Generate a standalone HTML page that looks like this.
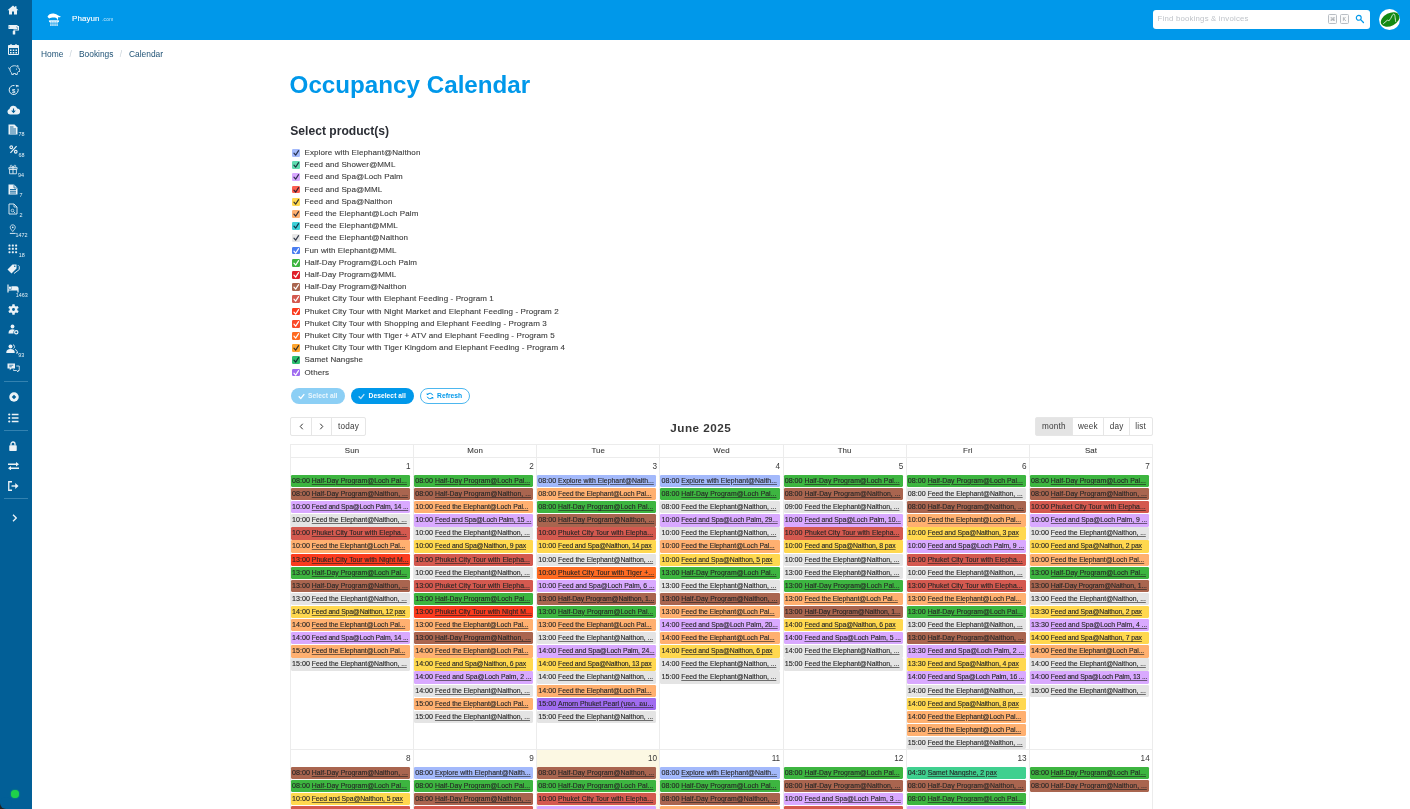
<!DOCTYPE html>
<html lang="en">
<head>
<meta charset="utf-8">
<title>Occupancy Calendar</title>
<style>
*{box-sizing:border-box}
html,body{margin:0;padding:0}
body{width:1410px;height:809px;overflow:hidden;background:#fff;position:relative;
 font-family:"Liberation Sans","Noto Sans CJK SC",sans-serif;color:#363636;}
#side{position:absolute;left:0;top:0;width:32.3px;height:809px;background:#025f97;}
#side svg{position:absolute;display:block;opacity:.92;margin-left:.2px}
#side .n{position:absolute;color:#e6f0f6;font-size:5.4px;line-height:6px;white-space:nowrap}
#side .sep{position:absolute;left:4px;width:24px;height:1px;background:#3482b0}
#corner{position:absolute;left:0;bottom:0;width:6px;height:6px;background:#222}
#corner:after{content:"";position:absolute;left:0;bottom:0;width:12px;height:12px;border-radius:6px;background:#025f97}
#top{position:absolute;left:32px;top:0;width:1378px;height:40px;background:#0098ea;}
#brand{position:absolute;left:40px;top:13.7px;color:#fff;font-size:8px;line-height:10px;white-space:nowrap;letter-spacing:.05px;-webkit-text-stroke:.12px #fff}
#brand small{font-size:4.7px;letter-spacing:.42px;opacity:.8;-webkit-text-stroke:0}
#search{position:absolute;left:1152.6px;top:9.6px;width:217.4px;height:19.5px;border-radius:3px;background:#fff;}
#search .ph{position:absolute;left:5px;top:4px;font-size:7.8px;line-height:10px;color:#bfc3c8;white-space:nowrap;letter-spacing:.2px}
#search kbd{position:absolute;top:4.7px;height:9.6px;width:9.2px;border:0.7px solid #b9bec4;border-radius:1.5px;font-family:"Liberation Sans","DejaVu Sans",sans-serif;font-size:5.4px;line-height:8.2px;text-align:center;color:#8f959b;background:#fbfbfb}
#avatar{position:absolute;left:1378.7px;top:8.7px;width:21px;height:21px;border-radius:10.5px;background:#fff;overflow:hidden}
#crumb{position:absolute;left:41px;top:48px;font-size:8.4px;line-height:12px;color:#1f5275;white-space:nowrap}
#crumb span{position:absolute;top:0}
#crumb i{font-style:normal;color:#c9d3da}
h1{position:absolute;left:289.6px;top:70.3px;margin:0;font-size:24.2px;line-height:30px;font-weight:bold;color:#0098ea;white-space:nowrap;letter-spacing:0}
h2{position:absolute;left:290.3px;top:123.1px;margin:0;font-size:12.1px;line-height:16px;font-weight:bold;color:#2b2e35;white-space:nowrap;letter-spacing:0}
#plist{position:absolute;left:292.2px;top:146.7px;}
.prod{display:block;height:12.2px;position:absolute;left:0;white-space:nowrap}
.cb{position:absolute;left:0;top:2.3px;width:7.8px;height:7.8px;border-radius:1.2px;display:block}
.cb svg{display:block;width:7.8px;height:7.8px}
.pl{position:absolute;left:12.3px;top:.3px;font-size:8px;line-height:12.2px;color:#404040;letter-spacing:.1px;-webkit-text-stroke:.12px #404040}
.btn{position:absolute;top:387.7px;height:16.8px;border-radius:8.4px;font-size:6.7px;line-height:16.8px;font-weight:bold;white-space:nowrap;color:#fff;background:#0098ea;letter-spacing:.05px}
.btn svg{position:absolute;top:5px;width:7px;height:7px}
.btn span{position:absolute;top:0}
.tb{position:absolute;top:416.5px;height:19px;border:1px solid #e6e6e6;background:#fff;border-radius:2px}
.tb div{position:absolute;top:0;height:17px;font-size:8.2px;line-height:18px;text-align:center;color:#3b3b3b;border-left:1px solid #e6e6e6;letter-spacing:.18px}
.tb div:first-child{border-left:0}
.tb svg{display:block;margin:5.4px auto 0}
#ctitle{position:absolute;left:600.8px;width:200px;top:418.6px;text-align:center;font-size:11.7px;line-height:18px;font-weight:bold;color:#383838;letter-spacing:.5px}
#cal{position:absolute;left:0;top:0;width:1410px;height:809px;overflow:hidden;pointer-events:none}
.vl{position:absolute;top:444px;width:1px;height:365px;background:#ececec}
.hl{position:absolute;left:290px;width:863px;height:1px;background:#ececec}
.dh{position:absolute;top:444.1px;height:13px;font-size:7.9px;line-height:13px;color:#3a3a3a;text-align:center;letter-spacing:.12px;-webkit-text-stroke:.1px #3a3a3a}
.today{position:absolute;background:#fcf8e3}
.dn{position:absolute;text-align:right;font-size:8.2px;line-height:10px;height:10px;width:40px;color:#3a3a3a;margin-top:1px}
.ev{position:absolute;display:block;height:12.4px;width:119.2px;border-radius:1.15px;padding:0 0 0 1.1px;font-size:6.85px;line-height:12.3px;color:#262626;white-space:nowrap;overflow:hidden;-webkit-text-stroke:.12px #262626}
.ev .t{font-size:7.15px}
.ev u{text-decoration-thickness:.45px;text-underline-offset:.9px;text-decoration-color:rgba(30,30,30,.6)}
.c-green{background:#3db540}
.c-brown{background:#a9654f}
.c-purple{background:#d9a9ff}
.c-grey{background:#e4e4e4}
.c-ired{background:#d4594f}
.c-orange{background:#ffb070}
.c-red{background:#fb3b1e}
.c-yellow{background:#ffd84f}
.c-blue{background:#a3b9fb}
.c-tiger{background:#ff6b22}
.c-others{background:#a06cf0}
.c-samet{background:#3fd08f}
</style>
</head>
<body>
<div id="top">
 <svg style="position:absolute;left:14.6px;top:12.6px" width="14" height="13.6" viewBox="0 0 28 27">
  <path d="M1 7.5C2.5 2.5 9 0 15 1.2c5 1 8.5 4.5 13 6-2.5 1.5-4.5 1.5-6 1 .5 2.5 0 4.5-1.2 6-.3-3-2.3-5-5.3-5.2C11.5 8.7 7.5 9 4.5 11 3.5 10 1.8 9 1 7.5z" fill="#fff"/>
  <path d="M4.5 15.5h19l-1 2.5h-17zM6 19.8h16M6 22.5h16M6 25.2h16" stroke="#fff" stroke-width="1.7" fill="#fff"/>
  <path d="M8.5 16v10M12.2 16v10M15.8 16v10M19.5 16v10" stroke="#0098ea" stroke-width=".9"/>
 </svg>
 <div id="brand">Phayun <small>.com</small></div>
</div>
<div id="search"><span class="ph">Find bookings &amp; invoices</span><kbd style="left:175.5px">⌘</kbd><kbd style="left:187.4px;width:8.6px">K</kbd>
 <svg style="position:absolute;left:202.6px;top:4.7px" width="9.4" height="9.4" viewBox="0 0 20 20"><circle cx="8" cy="8" r="5.2" fill="none" stroke="#0098ea" stroke-width="2.4"/><path d="M12 12l6 6" stroke="#0098ea" stroke-width="2.8" stroke-linecap="round"/></svg>
</div>
<div id="avatar">
 <svg width="21" height="21" viewBox="0 0 44 44"><ellipse cx="23.5" cy="22" rx="21" ry="13.5" transform="rotate(-27 23.5 22)" fill="#138913"/><path d="M9.5 30.5L18 23l2.2 2.3L24.5 20C27 15.5 28.5 10.5 31 10.5C33.8 10.5 33.6 19 34.8 26" fill="none" stroke="#fff" stroke-width="1.7" stroke-linecap="round" stroke-linejoin="round"/></svg>
</div>
<div id="side">
<svg style="left:7.0px;top:4.5px" width="12" height="10" viewBox="0 0 24 20"><path d="M12 1L1 10.5h3V19h6v-6h4v6h6v-8.5h3L19 7V2.5h-3v2z" fill="#fff"/></svg>
<svg style="left:7.5px;top:24.0px" width="11" height="11" viewBox="0 0 22 22"><path d="M2 3h16v6H2zM18 5h3v7h-9v3" fill="none" stroke="#fff" stroke-width="2.2"/><rect x="3" y="4" width="14" height="4" fill="#fff"/><rect x="9.5" y="14" width="5" height="7" rx="1" fill="#fff"/></svg>
<svg style="left:8.0px;top:44.0px" width="11" height="11" viewBox="0 0 22 22"><path d="M1 3h20v18H1z" fill="none" stroke="#fff" stroke-width="2"/><rect x="1" y="3" width="20" height="5" fill="#fff"/><path d="M6 0v5M16 0v5" stroke="#fff" stroke-width="2.4"/><path d="M4 11h3v3H4zM9.5 11h3v3h-3zM15 11h3v3h-3zM4 16h3v3H4zM9.5 16h3v3h-3zM15 16h3v3h-3z" fill="#fff"/></svg>
<svg style="left:7.5px;top:64.0px" width="12" height="11" viewBox="0 0 24 22"><path d="M4 9c1-4 5-5.5 9-5.5 2 0 3 .3 4.5 1L20 3v4c1 1 1.5 2 2 3h1.5v5H21c-.8 1.2-1.5 2-2.5 2.6V21h-3.5v-2h-4v2H7.5v-3C5 16.5 3.5 13 4 9z" fill="none" stroke="#fff" stroke-width="1.7" stroke-linejoin="round"/><circle cx="17" cy="10" r="1.2" fill="#fff"/><path d="M4 10c-2 0-3-1-3-3" fill="none" stroke="#fff" stroke-width="1.5"/></svg>
<svg style="left:7.5px;top:83.5px" width="12" height="12" viewBox="0 0 24 24"><path d="M20 9.5A9 9 0 1 1 13 3.100" fill="none" stroke="#fff" stroke-width="2"/><path d="M15 1.5l5 1-2.5 4.5" fill="#fff"/><text x="11.5" y="17" font-size="12" font-weight="bold" text-anchor="middle" fill="#fff" font-family="Liberation Sans, sans-serif">$</text><circle cx="20" cy="4" r="1.5" fill="#fff"/></svg>
<svg style="left:7.0px;top:104.5px" width="13" height="10" viewBox="0 0 26 20"><path d="M6.5 19A5.5 5.5 0 0 1 5 8.2 8 8 0 0 1 20.5 7 6 6 0 0 1 20 19z" fill="#fff"/><path d="M13 7v7M9.5 11l3.5 4 3.5-4" fill="none" stroke="#025f97" stroke-width="2.2"/></svg>
<svg style="left:7.5px;top:123.5px" width="10" height="11" viewBox="0 0 20 22"><path d="M1 1h12l6 6v14H1z" fill="#fff"/><path d="M4 6h7M4 10h12M4 14h12M4 18h12" stroke="#025f97" stroke-width="1.8"/></svg>
<span class="n" style="left:18.6px;top:131.4px">78</span>
<svg style="left:8.7px;top:144.5px" width="9" height="9" viewBox="0 0 22 22"><circle cx="5.5" cy="5.5" r="3.3" fill="none" stroke="#fff" stroke-width="2.6"/><circle cx="16.5" cy="16.5" r="3.3" fill="none" stroke="#fff" stroke-width="2.6"/><path d="M18.5 2.5l-15 17" stroke="#fff" stroke-width="2.8"/></svg>
<span class="n" style="left:18.4px;top:151.8px">68</span>
<svg style="left:7.8px;top:164.2px" width="10" height="10.5" viewBox="0 0 22 22"><path d="M2 7h18v4H2zM3.5 11h15v10h-15z" fill="none" stroke="#fff" stroke-width="1.8"/><path d="M11 7v14" stroke="#fff" stroke-width="2"/><path d="M11 6C9 1 4 1.5 5 4.5 6 6.5 9 6.5 11 6zM11 6c2-5 7-4.5 6-1.5-1 2-4 2-6 1.5z" fill="none" stroke="#fff" stroke-width="1.6"/></svg>
<span class="n" style="left:18.0px;top:171.6px">94</span>
<svg style="left:7.5px;top:183.5px" width="10" height="11" viewBox="0 0 20 22"><path d="M1 1h11l7 7v13H1z" fill="#fff"/><path d="M4 11h12M4 14.5h12M4 18h12" stroke="#025f97" stroke-width="1.8"/><path d="M12 1v7h7" fill="none" stroke="#025f97" stroke-width="1.4"/></svg>
<span class="n" style="left:19.4px;top:191.8px">7</span>
<svg style="left:7.5px;top:203.0px" width="10" height="12" viewBox="0 0 20 24"><path d="M2 2h10l6 6v14H2z" fill="none" stroke="#fff" stroke-width="1.8" stroke-linejoin="round"/><path d="M12 2v6h6" fill="none" stroke="#fff" stroke-width="1.5"/><circle cx="9" cy="15" r="2.6" fill="none" stroke="#fff" stroke-width="1.4"/><path d="M11 17l3 3" stroke="#fff" stroke-width="1.6"/></svg>
<span class="n" style="left:19.4px;top:212.0px">2</span>
<svg style="left:8.6px;top:224.2px" width="7.5" height="10.5" viewBox="0 0 18 24"><path d="M9 1.5c4 0 6 3 6 6 0 3-3 6-6 10-3-4-6-7-6-10 0-3 2-6 6-6z" fill="none" stroke="#fff" stroke-width="2"/><circle cx="9" cy="7.5" r="2" fill="#fff"/><path d="M2 22h14" stroke="#fff" stroke-width="2.2"/></svg>
<span class="n" style="left:15.6px;top:232.0px">1472</span>
<svg style="left:8.2px;top:244.2px" width="10" height="10" viewBox="0 0 21 21"><rect x="1" y="1" width="4.2" height="4.2" rx="1.2" fill="#fff"/><rect x="1" y="8" width="4.2" height="4.2" rx="1.2" fill="#fff"/><rect x="1" y="15" width="4.2" height="4.2" rx="1.2" fill="#fff"/><rect x="8" y="1" width="4.2" height="4.2" rx="1.2" fill="#fff"/><rect x="8" y="8" width="4.2" height="4.2" rx="1.2" fill="#fff"/><rect x="8" y="15" width="4.2" height="4.2" rx="1.2" fill="#fff"/><rect x="15" y="1" width="4.2" height="4.2" rx="1.2" fill="#fff"/><rect x="15" y="8" width="4.2" height="4.2" rx="1.2" fill="#fff"/><rect x="15" y="15" width="4.2" height="4.2" rx="1.2" fill="#fff"/></svg>
<span class="n" style="left:18.8px;top:251.6px">18</span>
<svg style="left:7.0px;top:263.5px" width="13" height="10" viewBox="0 0 26 20"><path d="M11 1h8v8L9 19 1 11z" fill="#fff"/><circle cx="15.5" cy="4.5" r="1.5" fill="#025f97"/><path d="M22 2.5l2.5 2.5v6L14 19" fill="none" stroke="#fff" stroke-width="1.8"/></svg>
<svg style="left:6.5px;top:283.5px" width="12" height="9" viewBox="0 0 24 18"><path d="M2 1v16M2 12h20v5M22 12V8.5c0-2-1.5-3-3.5-3H10V12" fill="none" stroke="#fff" stroke-width="2.4"/><rect x="10" y="6" width="12" height="6" fill="#fff"/><circle cx="6" cy="7.5" r="2.4" fill="#fff"/></svg>
<span class="n" style="left:15.8px;top:292.0px">1463</span>
<svg style="left:7.5px;top:303.5px" width="11" height="11" viewBox="0 0 24 24"><rect x="9.2" y="0.5" width="5.6" height="6" rx="1" fill="#fff" transform="rotate(0 12 12)"/><rect x="9.2" y="0.5" width="5.6" height="6" rx="1" fill="#fff" transform="rotate(60 12 12)"/><rect x="9.2" y="0.5" width="5.6" height="6" rx="1" fill="#fff" transform="rotate(120 12 12)"/><rect x="9.2" y="0.5" width="5.6" height="6" rx="1" fill="#fff" transform="rotate(180 12 12)"/><rect x="9.2" y="0.5" width="5.6" height="6" rx="1" fill="#fff" transform="rotate(240 12 12)"/><rect x="9.2" y="0.5" width="5.6" height="6" rx="1" fill="#fff" transform="rotate(300 12 12)"/><circle cx="12" cy="12" r="5.8" fill="none" stroke="#fff" stroke-width="5.2"/></svg>
<svg style="left:7.5px;top:323.5px" width="11" height="11" viewBox="0 0 22 22"><circle cx="9" cy="5" r="3.8" fill="#fff"/><path d="M1 19c0-6 3-8.5 8-8.5 2 0 3.5.4 4.5 1.2L11 15v4z" fill="#fff"/><circle cx="16.5" cy="16.5" r="3.3" fill="none" stroke="#fff" stroke-width="2.4"/></svg>
<svg style="left:6.0px;top:343.5px" width="12" height="10" viewBox="0 0 24 20"><circle cx="9" cy="5" r="4" fill="#fff"/><path d="M0.5 18c0-6 3-8 8.5-8s8.5 2 8.5 8z" fill="#fff"/><path d="M14 1.5a4 4 0 0 1 1 7.5M18 11c3 1 5 3 5 7h-3" fill="none" stroke="#fff" stroke-width="1.8"/></svg>
<span class="n" style="left:18.2px;top:352.0px">93</span>
<svg style="left:7.0px;top:363.0px" width="13" height="10" viewBox="0 0 26 20"><path d="M1 1h15v10H9l-3.5 3.5V11H1z" fill="#fff"/><path d="M4.5 4.5h8M4.5 7.5h5" stroke="#025f97" stroke-width="1.5"/><path d="M18.5 6h6v9h-2.5v3L19 15h-6v-2" fill="none" stroke="#fff" stroke-width="1.6"/></svg>
<div class="sep" style="top:381px"></div>
<svg style="left:8.5px;top:392.0px" width="10" height="10" viewBox="0 0 20 20"><circle cx="10" cy="10" r="9.5" fill="#fff"/><path d="M10 5.5l4.5 4.5-4.5 4.5-4.5-4.5z" fill="#025f97"/></svg>
<svg style="left:8.2px;top:412.5px" width="10.5" height="10" viewBox="0 0 21 20"><circle cx="2.5" cy="3" r="2.2" fill="#fff"/><circle cx="2.5" cy="10" r="2.2" fill="#fff"/><circle cx="2.5" cy="17" r="2.2" fill="#fff"/><path d="M7.5 3H21M7.5 10H21M7.5 17H21" stroke="#fff" stroke-width="3.2"/></svg>
<div class="sep" style="top:430px"></div>
<svg style="left:9.3px;top:441.0px" width="8" height="10" viewBox="0 0 16 20"><rect x="0.5" y="8.5" width="15" height="11.5" rx="1.5" fill="#fff"/><path d="M4 9V6a4 4 0 0 1 8 0v3" fill="none" stroke="#fff" stroke-width="2.6"/></svg>
<svg style="left:8.0px;top:461.8px" width="11" height="8.5" viewBox="0 0 22 17"><path d="M0 4.5h17M5 12.5h17" stroke="#fff" stroke-width="2.8"/><path d="M16 0l6 4.5-6 4.5zM6 8L0 12.5 6 17z" fill="#fff"/></svg>
<svg style="left:8.0px;top:480.5px" width="11" height="10" viewBox="0 0 22 20"><path d="M8 1.5H1.5v17H8" fill="none" stroke="#fff" stroke-width="2.6"/><path d="M7 10h10" stroke="#fff" stroke-width="2.8"/><path d="M14.5 4l6.5 6-6.5 6z" fill="#fff"/></svg>
<div class="sep" style="top:498px"></div>
<svg style="left:12.0px;top:513.8px" width="5" height="8" viewBox="0 0 10 16"><path d="M2 1.5L8.5 8 2 14.5" fill="none" stroke="#fff" stroke-width="2.6"/></svg>
<div style="position:absolute;left:10.5px;top:790px;width:8px;height:8px;border-radius:4px;background:#1fd14a;box-shadow:0 0 1.5px #1fd14a"></div>
</div>
<div id="crumb"><span style="left:0">Home</span><span style="left:28.6px"><i>/</i></span><span style="left:38px">Bookings</span><span style="left:78.8px"><i>/</i></span><span style="left:88px">Calendar</span></div>
<h1>Occupancy Calendar</h1>
<h2>Select product(s)</h2>
<div id="plist">
<label class="prod" style="top:0.00px"><span class="cb" style="background:#a3b9fb"><svg viewBox="0 0 16 16"><path d="M4 8.4l3.5 4.2 6-9.2" fill="none" stroke="rgba(10,20,40,.82)" stroke-width="2.4" stroke-linecap="round" stroke-linejoin="round"/></svg></span><span class="pl">Explore with Elephant@Naithon</span></label>
<label class="prod" style="top:12.20px"><span class="cb" style="background:#5fdcae"><svg viewBox="0 0 16 16"><path d="M4 8.4l3.5 4.2 6-9.2" fill="none" stroke="rgba(10,20,40,.82)" stroke-width="2.4" stroke-linecap="round" stroke-linejoin="round"/></svg></span><span class="pl">Feed and Shower@MML</span></label>
<label class="prod" style="top:24.40px"><span class="cb" style="background:#d9a9ff"><svg viewBox="0 0 16 16"><path d="M4 8.4l3.5 4.2 6-9.2" fill="none" stroke="rgba(10,20,40,.82)" stroke-width="2.4" stroke-linecap="round" stroke-linejoin="round"/></svg></span><span class="pl">Feed and Spa@Loch Palm</span></label>
<label class="prod" style="top:36.60px"><span class="cb" style="background:#fb5e50"><svg viewBox="0 0 16 16"><path d="M4 8.4l3.5 4.2 6-9.2" fill="none" stroke="rgba(10,20,40,.82)" stroke-width="2.4" stroke-linecap="round" stroke-linejoin="round"/></svg></span><span class="pl">Feed and Spa@MML</span></label>
<label class="prod" style="top:48.80px"><span class="cb" style="background:#ffd84f"><svg viewBox="0 0 16 16"><path d="M4 8.4l3.5 4.2 6-9.2" fill="none" stroke="rgba(10,20,40,.82)" stroke-width="2.4" stroke-linecap="round" stroke-linejoin="round"/></svg></span><span class="pl">Feed and Spa@Naithon</span></label>
<label class="prod" style="top:61.00px"><span class="cb" style="background:#ffb070"><svg viewBox="0 0 16 16"><path d="M4 8.4l3.5 4.2 6-9.2" fill="none" stroke="rgba(10,20,40,.82)" stroke-width="2.4" stroke-linecap="round" stroke-linejoin="round"/></svg></span><span class="pl">Feed the Elephant@Loch Palm</span></label>
<label class="prod" style="top:73.20px"><span class="cb" style="background:#3dd0d8"><svg viewBox="0 0 16 16"><path d="M4 8.4l3.5 4.2 6-9.2" fill="none" stroke="rgba(10,20,40,.82)" stroke-width="2.4" stroke-linecap="round" stroke-linejoin="round"/></svg></span><span class="pl">Feed the Elephant@MML</span></label>
<label class="prod" style="top:85.40px"><span class="cb" style="background:#e8e8e8"><svg viewBox="0 0 16 16"><path d="M4 8.4l3.5 4.2 6-9.2" fill="none" stroke="rgba(10,20,40,.82)" stroke-width="2.4" stroke-linecap="round" stroke-linejoin="round"/></svg></span><span class="pl">Feed the Elephant@Naithon</span></label>
<label class="prod" style="top:97.60px"><span class="cb" style="background:#4a7df0"><svg viewBox="0 0 16 16"><path d="M4 8.4l3.5 4.2 6-9.2" fill="none" stroke="#fff" stroke-width="2.4" stroke-linecap="round" stroke-linejoin="round"/></svg></span><span class="pl">Fun with Elephant@MML</span></label>
<label class="prod" style="top:109.80px"><span class="cb" style="background:#3db540"><svg viewBox="0 0 16 16"><path d="M4 8.4l3.5 4.2 6-9.2" fill="none" stroke="#fff" stroke-width="2.4" stroke-linecap="round" stroke-linejoin="round"/></svg></span><span class="pl">Half-Day Program@Loch Palm</span></label>
<label class="prod" style="top:122.00px"><span class="cb" style="background:#e0202a"><svg viewBox="0 0 16 16"><path d="M4 8.4l3.5 4.2 6-9.2" fill="none" stroke="#fff" stroke-width="2.4" stroke-linecap="round" stroke-linejoin="round"/></svg></span><span class="pl">Half-Day Program@MML</span></label>
<label class="prod" style="top:134.20px"><span class="cb" style="background:#a9654f"><svg viewBox="0 0 16 16"><path d="M4 8.4l3.5 4.2 6-9.2" fill="none" stroke="#fff" stroke-width="2.4" stroke-linecap="round" stroke-linejoin="round"/></svg></span><span class="pl">Half-Day Program@Naithon</span></label>
<label class="prod" style="top:146.40px"><span class="cb" style="background:#d4594f"><svg viewBox="0 0 16 16"><path d="M4 8.4l3.5 4.2 6-9.2" fill="none" stroke="#fff" stroke-width="2.4" stroke-linecap="round" stroke-linejoin="round"/></svg></span><span class="pl">Phuket City Tour with Elephant Feeding - Program 1</span></label>
<label class="prod" style="top:158.60px"><span class="cb" style="background:#fb3b1e"><svg viewBox="0 0 16 16"><path d="M4 8.4l3.5 4.2 6-9.2" fill="none" stroke="#fff" stroke-width="2.4" stroke-linecap="round" stroke-linejoin="round"/></svg></span><span class="pl">Phuket City Tour with Night Market and Elephant Feeding - Program 2</span></label>
<label class="prod" style="top:170.80px"><span class="cb" style="background:#fb4a2a"><svg viewBox="0 0 16 16"><path d="M4 8.4l3.5 4.2 6-9.2" fill="none" stroke="#fff" stroke-width="2.4" stroke-linecap="round" stroke-linejoin="round"/></svg></span><span class="pl">Phuket City Tour with Shopping and Elephant Feeding - Program 3</span></label>
<label class="prod" style="top:183.00px"><span class="cb" style="background:#ff6b22"><svg viewBox="0 0 16 16"><path d="M4 8.4l3.5 4.2 6-9.2" fill="none" stroke="#fff" stroke-width="2.4" stroke-linecap="round" stroke-linejoin="round"/></svg></span><span class="pl">Phuket City Tour with Tiger + ATV and Elephant Feeding - Program 5</span></label>
<label class="prod" style="top:195.20px"><span class="cb" style="background:#ffa52e"><svg viewBox="0 0 16 16"><path d="M4 8.4l3.5 4.2 6-9.2" fill="none" stroke="rgba(10,20,40,.82)" stroke-width="2.4" stroke-linecap="round" stroke-linejoin="round"/></svg></span><span class="pl">Phuket City Tour with Tiger Kingdom and Elephant Feeding - Program 4</span></label>
<label class="prod" style="top:207.40px"><span class="cb" style="background:#2fc070"><svg viewBox="0 0 16 16"><path d="M4 8.4l3.5 4.2 6-9.2" fill="none" stroke="rgba(10,20,40,.82)" stroke-width="2.4" stroke-linecap="round" stroke-linejoin="round"/></svg></span><span class="pl">Samet Nangshe</span></label>
<label class="prod" style="top:219.60px"><span class="cb" style="background:#a06cf0"><svg viewBox="0 0 16 16"><path d="M4 8.4l3.5 4.2 6-9.2" fill="none" stroke="#fff" stroke-width="2.4" stroke-linecap="round" stroke-linejoin="round"/></svg></span><span class="pl">Others</span></label>
</div>
<div class="btn" style="left:290.5px;width:54.5px;background:#8ccff5;color:#e9f6fd">
 <svg style="left:7px" viewBox="0 0 16 16"><path d="M2.5 8.5l4 4 7-9" fill="none" stroke="#fff" stroke-width="3" stroke-linecap="round" stroke-linejoin="round"/></svg>
 <span style="left:17.5px">Select all</span></div>
<div class="btn" style="left:351px;width:63px">
 <svg style="left:7px" viewBox="0 0 16 16"><path d="M2.5 8.5l4 4 7-9" fill="none" stroke="#bfe4f9" stroke-width="3" stroke-linecap="round" stroke-linejoin="round"/></svg>
 <span style="left:17.5px">Deselect all</span></div>
<div class="btn" style="left:419.5px;width:50.5px;background:#fff;border:0.8px solid #4db7ef;color:#0098ea;line-height:14.6px">
 <svg style="left:5.5px;top:3.6px;width:8px;height:8px" viewBox="0 0 16 16"><path d="M13.5 6.5A6 6 0 0 0 3 5M2.5 9.5A6 6 0 0 0 13 11" fill="none" stroke="#0098ea" stroke-width="2"/><path d="M1.5 1.5v4.5h4.5zM14.5 14.5v-4.5h-4.5z" fill="#0098ea"/></svg>
 <span style="left:16.5px">Refresh</span></div>

<div class="tb" style="left:290.4px;width:75.2px">
 <div style="left:0;width:19.3px"><svg width="5" height="7" viewBox="0 0 10 14"><path d="M7.5 1.5L2.5 7l5 5.5" fill="none" stroke="#333" stroke-width="2"/></svg></div>
 <div style="left:19.3px;width:20.7px"><svg width="5" height="7" viewBox="0 0 10 14"><path d="M2.5 1.5l5 5.5-5 5.5" fill="none" stroke="#333" stroke-width="2"/></svg></div>
 <div style="left:40px;width:33.2px">today</div>
</div>
<div id="ctitle">June 2025</div>
<div class="tb" style="left:1035px;width:117.5px">
 <div style="left:0;width:35.6px;background:#e4e4e4">month</div>
 <div style="left:35.6px;width:31.7px">week</div>
 <div style="left:67.3px;width:25.5px">day</div>
 <div style="left:92.8px;width:22.7px">list</div>
</div>

<div id="cal">
<div class="today" style="left:537.2px;top:750.3px;width:122.2px;height:60px"></div>
<div class="vl" style="left:289.90px"></div>
<div class="vl" style="left:413.07px"></div>
<div class="vl" style="left:536.24px"></div>
<div class="vl" style="left:659.41px"></div>
<div class="vl" style="left:782.58px"></div>
<div class="vl" style="left:905.75px"></div>
<div class="vl" style="left:1028.92px"></div>
<div class="vl" style="left:1152.09px"></div>
<div class="hl" style="top:444px"></div>
<div class="hl" style="top:457px"></div>
<div class="hl" style="top:749.3px"></div>
<div class="dh" style="left:290.40px;width:123.17px">Sun</div>
<div class="dh" style="left:413.57px;width:123.17px">Mon</div>
<div class="dh" style="left:536.74px;width:123.17px">Tue</div>
<div class="dh" style="left:659.91px;width:123.17px">Wed</div>
<div class="dh" style="left:783.08px;width:123.17px">Thu</div>
<div class="dh" style="left:906.25px;width:123.17px">Fri</div>
<div class="dh" style="left:1029.42px;width:123.17px">Sat</div>
<div class="dn" style="left:370.67px;top:460.90px">1</div>
<a class="ev c-green" style="left:290.90px;top:474.90px"><span class="t">08:00</span> <u style="letter-spacing:0.041px">Half-Day Program@Loch Pal...</u></a>
<a class="ev c-brown" style="left:290.90px;top:488.00px"><span class="t">08:00</span> <u style="letter-spacing:0.045px">Half-Day Program@Naithon, ...</u></a>
<a class="ev c-purple" style="left:290.90px;top:501.10px"><span class="t">10:00</span> <u style="letter-spacing:-0.163px">Feed and Spa@Loch Palm, 14 ...</u></a>
<a class="ev c-grey" style="left:290.90px;top:514.20px"><span class="t">10:00</span> <u style="letter-spacing:-0.032px">Feed the Elephant@Naithon, ...</u></a>
<a class="ev c-ired" style="left:290.90px;top:527.30px"><span class="t">10:00</span> <u style="letter-spacing:0.063px">Phuket City Tour with Elepha...</u></a>
<a class="ev c-orange" style="left:290.90px;top:540.40px"><span class="t">10:00</span> <u style="letter-spacing:-0.062px">Feed the Elephant@Loch Pal...</u></a>
<a class="ev c-red" style="left:290.90px;top:553.50px"><span class="t">13:00</span> <u style="letter-spacing:0.049px">Phuket City Tour with Night M...</u></a>
<a class="ev c-green" style="left:290.90px;top:566.60px"><span class="t">13:00</span> <u style="letter-spacing:0.041px">Half-Day Program@Loch Pal...</u></a>
<a class="ev c-brown" style="left:290.90px;top:579.70px"><span class="t">13:00</span> <u style="letter-spacing:0.045px">Half-Day Program@Naithon, ...</u></a>
<a class="ev c-grey" style="left:290.90px;top:592.80px"><span class="t">13:00</span> <u style="letter-spacing:-0.032px">Feed the Elephant@Naithon, ...</u></a>
<a class="ev c-yellow" style="left:290.90px;top:605.90px"><span class="t">14:00</span> <u style="letter-spacing:-0.160px">Feed and Spa@Naithon, 12 pax</u></a>
<a class="ev c-orange" style="left:290.90px;top:619.00px"><span class="t">14:00</span> <u style="letter-spacing:-0.062px">Feed the Elephant@Loch Pal...</u></a>
<a class="ev c-purple" style="left:290.90px;top:632.10px"><span class="t">14:00</span> <u style="letter-spacing:-0.163px">Feed and Spa@Loch Palm, 14 ...</u></a>
<a class="ev c-orange" style="left:290.90px;top:645.20px"><span class="t">15:00</span> <u style="letter-spacing:-0.062px">Feed the Elephant@Loch Pal...</u></a>
<a class="ev c-grey" style="left:290.90px;top:658.30px"><span class="t">15:00</span> <u style="letter-spacing:-0.032px">Feed the Elephant@Naithon, ...</u></a>
<div class="dn" style="left:493.84px;top:460.90px">2</div>
<a class="ev c-green" style="left:414.07px;top:474.90px"><span class="t">08:00</span> <u style="letter-spacing:0.041px">Half-Day Program@Loch Pal...</u></a>
<a class="ev c-brown" style="left:414.07px;top:488.00px"><span class="t">08:00</span> <u style="letter-spacing:0.045px">Half-Day Program@Naithon, ...</u></a>
<a class="ev c-orange" style="left:414.07px;top:501.10px"><span class="t">10:00</span> <u style="letter-spacing:-0.062px">Feed the Elephant@Loch Pal...</u></a>
<a class="ev c-purple" style="left:414.07px;top:514.20px"><span class="t">10:00</span> <u style="letter-spacing:-0.163px">Feed and Spa@Loch Palm, 15 ...</u></a>
<a class="ev c-grey" style="left:414.07px;top:527.30px"><span class="t">10:00</span> <u style="letter-spacing:-0.032px">Feed the Elephant@Naithon, ...</u></a>
<a class="ev c-yellow" style="left:414.07px;top:540.40px"><span class="t">10:00</span> <u style="letter-spacing:-0.110px">Feed and Spa@Naithon, 9 pax</u></a>
<a class="ev c-ired" style="left:414.07px;top:553.50px"><span class="t">10:00</span> <u style="letter-spacing:0.063px">Phuket City Tour with Elepha...</u></a>
<a class="ev c-grey" style="left:414.07px;top:566.60px"><span class="t">10:00</span> <u style="letter-spacing:-0.032px">Feed the Elephant@Naithon, ...</u></a>
<a class="ev c-ired" style="left:414.07px;top:579.70px"><span class="t">13:00</span> <u style="letter-spacing:0.063px">Phuket City Tour with Elepha...</u></a>
<a class="ev c-green" style="left:414.07px;top:592.80px"><span class="t">13:00</span> <u style="letter-spacing:0.041px">Half-Day Program@Loch Pal...</u></a>
<a class="ev c-red" style="left:414.07px;top:605.90px"><span class="t">13:00</span> <u style="letter-spacing:0.049px">Phuket City Tour with Night M...</u></a>
<a class="ev c-orange" style="left:414.07px;top:619.00px"><span class="t">13:00</span> <u style="letter-spacing:-0.062px">Feed the Elephant@Loch Pal...</u></a>
<a class="ev c-brown" style="left:414.07px;top:632.10px"><span class="t">13:00</span> <u style="letter-spacing:0.045px">Half-Day Program@Naithon, ...</u></a>
<a class="ev c-orange" style="left:414.07px;top:645.20px"><span class="t">14:00</span> <u style="letter-spacing:-0.062px">Feed the Elephant@Loch Pal...</u></a>
<a class="ev c-yellow" style="left:414.07px;top:658.30px"><span class="t">14:00</span> <u style="letter-spacing:-0.110px">Feed and Spa@Naithon, 6 pax</u></a>
<a class="ev c-purple" style="left:414.07px;top:671.40px"><span class="t">14:00</span> <u style="letter-spacing:-0.037px">Feed and Spa@Loch Palm, 2 ...</u></a>
<a class="ev c-grey" style="left:414.07px;top:684.50px"><span class="t">14:00</span> <u style="letter-spacing:-0.032px">Feed the Elephant@Naithon, ...</u></a>
<a class="ev c-orange" style="left:414.07px;top:697.60px"><span class="t">15:00</span> <u style="letter-spacing:-0.062px">Feed the Elephant@Loch Pal...</u></a>
<a class="ev c-grey" style="left:414.07px;top:710.70px"><span class="t">15:00</span> <u style="letter-spacing:-0.032px">Feed the Elephant@Naithon, ...</u></a>
<div class="dn" style="left:617.01px;top:460.90px">3</div>
<a class="ev c-blue" style="left:537.24px;top:474.90px"><span class="t">08:00</span> <u style="letter-spacing:0.030px">Explore with Elephant@Naith...</u></a>
<a class="ev c-orange" style="left:537.24px;top:488.00px"><span class="t">08:00</span> <u style="letter-spacing:-0.062px">Feed the Elephant@Loch Pal...</u></a>
<a class="ev c-green" style="left:537.24px;top:501.10px"><span class="t">08:00</span> <u style="letter-spacing:0.041px">Half-Day Program@Loch Pal...</u></a>
<a class="ev c-brown" style="left:537.24px;top:514.20px"><span class="t">08:00</span> <u style="letter-spacing:0.045px">Half-Day Program@Naithon, ...</u></a>
<a class="ev c-ired" style="left:537.24px;top:527.30px"><span class="t">10:00</span> <u style="letter-spacing:0.063px">Phuket City Tour with Elepha...</u></a>
<a class="ev c-yellow" style="left:537.24px;top:540.40px"><span class="t">10:00</span> <u style="letter-spacing:-0.160px">Feed and Spa@Naithon, 14 pax</u></a>
<a class="ev c-grey" style="left:537.24px;top:553.50px"><span class="t">10:00</span> <u style="letter-spacing:-0.032px">Feed the Elephant@Naithon, ...</u></a>
<a class="ev c-tiger" style="left:537.24px;top:566.60px"><span class="t">10:00</span> <u style="letter-spacing:0.104px">Phuket City Tour with Tiger +...</u></a>
<a class="ev c-purple" style="left:537.24px;top:579.70px"><span class="t">10:00</span> <u style="letter-spacing:-0.037px">Feed and Spa@Loch Palm, 6 ...</u></a>
<a class="ev c-brown" style="left:537.24px;top:592.80px"><span class="t">13:00</span> <u style="letter-spacing:-0.084px">Half-Day Program@Naithon, 1...</u></a>
<a class="ev c-green" style="left:537.24px;top:605.90px"><span class="t">13:00</span> <u style="letter-spacing:0.041px">Half-Day Program@Loch Pal...</u></a>
<a class="ev c-orange" style="left:537.24px;top:619.00px"><span class="t">13:00</span> <u style="letter-spacing:-0.062px">Feed the Elephant@Loch Pal...</u></a>
<a class="ev c-grey" style="left:537.24px;top:632.10px"><span class="t">13:00</span> <u style="letter-spacing:-0.032px">Feed the Elephant@Naithon, ...</u></a>
<a class="ev c-purple" style="left:537.24px;top:645.20px"><span class="t">14:00</span> <u style="letter-spacing:-0.103px">Feed and Spa@Loch Palm, 24...</u></a>
<a class="ev c-yellow" style="left:537.24px;top:658.30px"><span class="t">14:00</span> <u style="letter-spacing:-0.160px">Feed and Spa@Naithon, 13 pax</u></a>
<a class="ev c-grey" style="left:537.24px;top:671.40px"><span class="t">14:00</span> <u style="letter-spacing:-0.032px">Feed the Elephant@Naithon, ...</u></a>
<a class="ev c-orange" style="left:537.24px;top:684.50px"><span class="t">14:00</span> <u style="letter-spacing:-0.062px">Feed the Elephant@Loch Pal...</u></a>
<a class="ev c-others" style="left:537.24px;top:697.60px"><span class="t">15:00</span> <u style="letter-spacing:-0.024px">Amorn Phuket Pearl (บจก. อม...</u></a>
<a class="ev c-grey" style="left:537.24px;top:710.70px"><span class="t">15:00</span> <u style="letter-spacing:-0.032px">Feed the Elephant@Naithon, ...</u></a>
<div class="dn" style="left:740.18px;top:460.90px">4</div>
<a class="ev c-blue" style="left:660.41px;top:474.90px"><span class="t">08:00</span> <u style="letter-spacing:0.030px">Explore with Elephant@Naith...</u></a>
<a class="ev c-green" style="left:660.41px;top:488.00px"><span class="t">08:00</span> <u style="letter-spacing:0.041px">Half-Day Program@Loch Pal...</u></a>
<a class="ev c-grey" style="left:660.41px;top:501.10px"><span class="t">08:00</span> <u style="letter-spacing:-0.032px">Feed the Elephant@Naithon, ...</u></a>
<a class="ev c-purple" style="left:660.41px;top:514.20px"><span class="t">10:00</span> <u style="letter-spacing:-0.103px">Feed and Spa@Loch Palm, 29...</u></a>
<a class="ev c-grey" style="left:660.41px;top:527.30px"><span class="t">10:00</span> <u style="letter-spacing:-0.032px">Feed the Elephant@Naithon, ...</u></a>
<a class="ev c-orange" style="left:660.41px;top:540.40px"><span class="t">10:00</span> <u style="letter-spacing:-0.062px">Feed the Elephant@Loch Pal...</u></a>
<a class="ev c-yellow" style="left:660.41px;top:553.50px"><span class="t">10:00</span> <u style="letter-spacing:-0.110px">Feed and Spa@Naithon, 5 pax</u></a>
<a class="ev c-green" style="left:660.41px;top:566.60px"><span class="t">13:00</span> <u style="letter-spacing:0.041px">Half-Day Program@Loch Pal...</u></a>
<a class="ev c-grey" style="left:660.41px;top:579.70px"><span class="t">13:00</span> <u style="letter-spacing:-0.032px">Feed the Elephant@Naithon, ...</u></a>
<a class="ev c-brown" style="left:660.41px;top:592.80px"><span class="t">13:00</span> <u style="letter-spacing:0.045px">Half-Day Program@Naithon, ...</u></a>
<a class="ev c-orange" style="left:660.41px;top:605.90px"><span class="t">13:00</span> <u style="letter-spacing:-0.062px">Feed the Elephant@Loch Pal...</u></a>
<a class="ev c-purple" style="left:660.41px;top:619.00px"><span class="t">14:00</span> <u style="letter-spacing:-0.103px">Feed and Spa@Loch Palm, 20...</u></a>
<a class="ev c-orange" style="left:660.41px;top:632.10px"><span class="t">14:00</span> <u style="letter-spacing:-0.062px">Feed the Elephant@Loch Pal...</u></a>
<a class="ev c-yellow" style="left:660.41px;top:645.20px"><span class="t">14:00</span> <u style="letter-spacing:-0.110px">Feed and Spa@Naithon, 6 pax</u></a>
<a class="ev c-grey" style="left:660.41px;top:658.30px"><span class="t">14:00</span> <u style="letter-spacing:-0.032px">Feed the Elephant@Naithon, ...</u></a>
<a class="ev c-grey" style="left:660.41px;top:671.40px"><span class="t">15:00</span> <u style="letter-spacing:-0.032px">Feed the Elephant@Naithon, ...</u></a>
<div class="dn" style="left:863.35px;top:460.90px">5</div>
<a class="ev c-green" style="left:783.58px;top:474.90px"><span class="t">08:00</span> <u style="letter-spacing:0.041px">Half-Day Program@Loch Pal...</u></a>
<a class="ev c-brown" style="left:783.58px;top:488.00px"><span class="t">08:00</span> <u style="letter-spacing:0.045px">Half-Day Program@Naithon, ...</u></a>
<a class="ev c-grey" style="left:783.58px;top:501.10px"><span class="t">09:00</span> <u style="letter-spacing:-0.032px">Feed the Elephant@Naithon, ...</u></a>
<a class="ev c-purple" style="left:783.58px;top:514.20px"><span class="t">10:00</span> <u style="letter-spacing:-0.103px">Feed and Spa@Loch Palm, 10...</u></a>
<a class="ev c-ired" style="left:783.58px;top:527.30px"><span class="t">10:00</span> <u style="letter-spacing:0.063px">Phuket City Tour with Elepha...</u></a>
<a class="ev c-yellow" style="left:783.58px;top:540.40px"><span class="t">10:00</span> <u style="letter-spacing:-0.110px">Feed and Spa@Naithon, 8 pax</u></a>
<a class="ev c-grey" style="left:783.58px;top:553.50px"><span class="t">10:00</span> <u style="letter-spacing:-0.032px">Feed the Elephant@Naithon, ...</u></a>
<a class="ev c-grey" style="left:783.58px;top:566.60px"><span class="t">13:00</span> <u style="letter-spacing:-0.032px">Feed the Elephant@Naithon, ...</u></a>
<a class="ev c-green" style="left:783.58px;top:579.70px"><span class="t">13:00</span> <u style="letter-spacing:0.041px">Half-Day Program@Loch Pal...</u></a>
<a class="ev c-orange" style="left:783.58px;top:592.80px"><span class="t">13:00</span> <u style="letter-spacing:-0.062px">Feed the Elephant@Loch Pal...</u></a>
<a class="ev c-brown" style="left:783.58px;top:605.90px"><span class="t">13:00</span> <u style="letter-spacing:-0.084px">Half-Day Program@Naithon, 1...</u></a>
<a class="ev c-yellow" style="left:783.58px;top:619.00px"><span class="t">14:00</span> <u style="letter-spacing:-0.110px">Feed and Spa@Naithon, 6 pax</u></a>
<a class="ev c-purple" style="left:783.58px;top:632.10px"><span class="t">14:00</span> <u style="letter-spacing:-0.037px">Feed and Spa@Loch Palm, 5 ...</u></a>
<a class="ev c-grey" style="left:783.58px;top:645.20px"><span class="t">14:00</span> <u style="letter-spacing:-0.032px">Feed the Elephant@Naithon, ...</u></a>
<a class="ev c-grey" style="left:783.58px;top:658.30px"><span class="t">15:00</span> <u style="letter-spacing:-0.032px">Feed the Elephant@Naithon, ...</u></a>
<div class="dn" style="left:986.52px;top:460.90px">6</div>
<a class="ev c-green" style="left:906.75px;top:474.90px"><span class="t">08:00</span> <u style="letter-spacing:0.041px">Half-Day Program@Loch Pal...</u></a>
<a class="ev c-grey" style="left:906.75px;top:488.00px"><span class="t">08:00</span> <u style="letter-spacing:-0.032px">Feed the Elephant@Naithon, ...</u></a>
<a class="ev c-brown" style="left:906.75px;top:501.10px"><span class="t">08:00</span> <u style="letter-spacing:0.045px">Half-Day Program@Naithon, ...</u></a>
<a class="ev c-orange" style="left:906.75px;top:514.20px"><span class="t">10:00</span> <u style="letter-spacing:-0.062px">Feed the Elephant@Loch Pal...</u></a>
<a class="ev c-yellow" style="left:906.75px;top:527.30px"><span class="t">10:00</span> <u style="letter-spacing:-0.110px">Feed and Spa@Naithon, 3 pax</u></a>
<a class="ev c-purple" style="left:906.75px;top:540.40px"><span class="t">10:00</span> <u style="letter-spacing:-0.037px">Feed and Spa@Loch Palm, 9 ...</u></a>
<a class="ev c-ired" style="left:906.75px;top:553.50px"><span class="t">10:00</span> <u style="letter-spacing:0.063px">Phuket City Tour with Elepha...</u></a>
<a class="ev c-grey" style="left:906.75px;top:566.60px"><span class="t">10:00</span> <u style="letter-spacing:-0.032px">Feed the Elephant@Naithon, ...</u></a>
<a class="ev c-ired" style="left:906.75px;top:579.70px"><span class="t">13:00</span> <u style="letter-spacing:0.063px">Phuket City Tour with Elepha...</u></a>
<a class="ev c-orange" style="left:906.75px;top:592.80px"><span class="t">13:00</span> <u style="letter-spacing:-0.062px">Feed the Elephant@Loch Pal...</u></a>
<a class="ev c-green" style="left:906.75px;top:605.90px"><span class="t">13:00</span> <u style="letter-spacing:0.041px">Half-Day Program@Loch Pal...</u></a>
<a class="ev c-grey" style="left:906.75px;top:619.00px"><span class="t">13:00</span> <u style="letter-spacing:-0.032px">Feed the Elephant@Naithon, ...</u></a>
<a class="ev c-brown" style="left:906.75px;top:632.10px"><span class="t">13:00</span> <u style="letter-spacing:0.045px">Half-Day Program@Naithon, ...</u></a>
<a class="ev c-purple" style="left:906.75px;top:645.20px"><span class="t">13:30</span> <u style="letter-spacing:-0.037px">Feed and Spa@Loch Palm, 2 ...</u></a>
<a class="ev c-yellow" style="left:906.75px;top:658.30px"><span class="t">13:30</span> <u style="letter-spacing:-0.110px">Feed and Spa@Naithon, 4 pax</u></a>
<a class="ev c-purple" style="left:906.75px;top:671.40px"><span class="t">14:00</span> <u style="letter-spacing:-0.163px">Feed and Spa@Loch Palm, 16 ...</u></a>
<a class="ev c-grey" style="left:906.75px;top:684.50px"><span class="t">14:00</span> <u style="letter-spacing:-0.032px">Feed the Elephant@Naithon, ...</u></a>
<a class="ev c-yellow" style="left:906.75px;top:697.60px"><span class="t">14:00</span> <u style="letter-spacing:-0.110px">Feed and Spa@Naithon, 8 pax</u></a>
<a class="ev c-orange" style="left:906.75px;top:710.70px"><span class="t">14:00</span> <u style="letter-spacing:-0.062px">Feed the Elephant@Loch Pal...</u></a>
<a class="ev c-orange" style="left:906.75px;top:723.80px"><span class="t">15:00</span> <u style="letter-spacing:-0.062px">Feed the Elephant@Loch Pal...</u></a>
<a class="ev c-grey" style="left:906.75px;top:736.90px"><span class="t">15:00</span> <u style="letter-spacing:-0.032px">Feed the Elephant@Naithon, ...</u></a>
<div class="dn" style="left:1109.69px;top:460.90px">7</div>
<a class="ev c-green" style="left:1029.92px;top:474.90px"><span class="t">08:00</span> <u style="letter-spacing:0.041px">Half-Day Program@Loch Pal...</u></a>
<a class="ev c-brown" style="left:1029.92px;top:488.00px"><span class="t">08:00</span> <u style="letter-spacing:0.045px">Half-Day Program@Naithon, ...</u></a>
<a class="ev c-ired" style="left:1029.92px;top:501.10px"><span class="t">10:00</span> <u style="letter-spacing:0.063px">Phuket City Tour with Elepha...</u></a>
<a class="ev c-purple" style="left:1029.92px;top:514.20px"><span class="t">10:00</span> <u style="letter-spacing:-0.037px">Feed and Spa@Loch Palm, 9 ...</u></a>
<a class="ev c-grey" style="left:1029.92px;top:527.30px"><span class="t">10:00</span> <u style="letter-spacing:-0.032px">Feed the Elephant@Naithon, ...</u></a>
<a class="ev c-yellow" style="left:1029.92px;top:540.40px"><span class="t">10:00</span> <u style="letter-spacing:-0.110px">Feed and Spa@Naithon, 2 pax</u></a>
<a class="ev c-orange" style="left:1029.92px;top:553.50px"><span class="t">10:00</span> <u style="letter-spacing:-0.062px">Feed the Elephant@Loch Pal...</u></a>
<a class="ev c-green" style="left:1029.92px;top:566.60px"><span class="t">13:00</span> <u style="letter-spacing:0.041px">Half-Day Program@Loch Pal...</u></a>
<a class="ev c-brown" style="left:1029.92px;top:579.70px"><span class="t">13:00</span> <u style="letter-spacing:-0.084px">Half-Day Program@Naithon, 1...</u></a>
<a class="ev c-grey" style="left:1029.92px;top:592.80px"><span class="t">13:00</span> <u style="letter-spacing:-0.032px">Feed the Elephant@Naithon, ...</u></a>
<a class="ev c-yellow" style="left:1029.92px;top:605.90px"><span class="t">13:30</span> <u style="letter-spacing:-0.110px">Feed and Spa@Naithon, 2 pax</u></a>
<a class="ev c-purple" style="left:1029.92px;top:619.00px"><span class="t">13:30</span> <u style="letter-spacing:-0.037px">Feed and Spa@Loch Palm, 4 ...</u></a>
<a class="ev c-yellow" style="left:1029.92px;top:632.10px"><span class="t">14:00</span> <u style="letter-spacing:-0.110px">Feed and Spa@Naithon, 7 pax</u></a>
<a class="ev c-orange" style="left:1029.92px;top:645.20px"><span class="t">14:00</span> <u style="letter-spacing:-0.062px">Feed the Elephant@Loch Pal...</u></a>
<a class="ev c-grey" style="left:1029.92px;top:658.30px"><span class="t">14:00</span> <u style="letter-spacing:-0.032px">Feed the Elephant@Naithon, ...</u></a>
<a class="ev c-purple" style="left:1029.92px;top:671.40px"><span class="t">14:00</span> <u style="letter-spacing:-0.163px">Feed and Spa@Loch Palm, 13 ...</u></a>
<a class="ev c-grey" style="left:1029.92px;top:684.50px"><span class="t">15:00</span> <u style="letter-spacing:-0.032px">Feed the Elephant@Naithon, ...</u></a>
<div class="dn" style="left:370.67px;top:752.70px">8</div>
<a class="ev c-brown" style="left:290.90px;top:766.70px"><span class="t">08:00</span> <u style="letter-spacing:0.045px">Half-Day Program@Naithon, ...</u></a>
<a class="ev c-green" style="left:290.90px;top:779.80px"><span class="t">08:00</span> <u style="letter-spacing:0.041px">Half-Day Program@Loch Pal...</u></a>
<a class="ev c-yellow" style="left:290.90px;top:792.90px"><span class="t">10:00</span> <u style="letter-spacing:-0.110px">Feed and Spa@Naithon, 5 pax</u></a>
<a class="ev c-ired" style="left:290.90px;top:806.00px"><span class="t">10:00</span> <u style="letter-spacing:0.063px">Phuket City Tour with Elepha...</u></a>
<div class="dn" style="left:493.84px;top:752.70px">9</div>
<a class="ev c-blue" style="left:414.07px;top:766.70px"><span class="t">08:00</span> <u style="letter-spacing:0.030px">Explore with Elephant@Naith...</u></a>
<a class="ev c-green" style="left:414.07px;top:779.80px"><span class="t">08:00</span> <u style="letter-spacing:0.041px">Half-Day Program@Loch Pal...</u></a>
<a class="ev c-brown" style="left:414.07px;top:792.90px"><span class="t">08:00</span> <u style="letter-spacing:0.045px">Half-Day Program@Naithon, ...</u></a>
<a class="ev c-ired" style="left:414.07px;top:806.00px"><span class="t">10:00</span> <u style="letter-spacing:0.063px">Phuket City Tour with Elepha...</u></a>
<div class="dn" style="left:617.01px;top:752.70px">10</div>
<a class="ev c-brown" style="left:537.24px;top:766.70px"><span class="t">08:00</span> <u style="letter-spacing:0.045px">Half-Day Program@Naithon, ...</u></a>
<a class="ev c-green" style="left:537.24px;top:779.80px"><span class="t">08:00</span> <u style="letter-spacing:0.041px">Half-Day Program@Loch Pal...</u></a>
<a class="ev c-ired" style="left:537.24px;top:792.90px"><span class="t">10:00</span> <u style="letter-spacing:0.063px">Phuket City Tour with Elepha...</u></a>
<a class="ev c-purple" style="left:537.24px;top:806.00px"><span class="t">10:00</span> <u style="letter-spacing:-0.037px">Feed and Spa@Loch Palm, 7 ...</u></a>
<div class="dn" style="left:740.18px;top:752.70px">11</div>
<a class="ev c-blue" style="left:660.41px;top:766.70px"><span class="t">08:00</span> <u style="letter-spacing:0.030px">Explore with Elephant@Naith...</u></a>
<a class="ev c-green" style="left:660.41px;top:779.80px"><span class="t">08:00</span> <u style="letter-spacing:0.041px">Half-Day Program@Loch Pal...</u></a>
<a class="ev c-brown" style="left:660.41px;top:792.90px"><span class="t">08:00</span> <u style="letter-spacing:0.045px">Half-Day Program@Naithon, ...</u></a>
<a class="ev c-orange" style="left:660.41px;top:806.00px"><span class="t">10:00</span> <u style="letter-spacing:-0.062px">Feed the Elephant@Loch Pal...</u></a>
<div class="dn" style="left:863.35px;top:752.70px">12</div>
<a class="ev c-green" style="left:783.58px;top:766.70px"><span class="t">08:00</span> <u style="letter-spacing:0.041px">Half-Day Program@Loch Pal...</u></a>
<a class="ev c-brown" style="left:783.58px;top:779.80px"><span class="t">08:00</span> <u style="letter-spacing:0.045px">Half-Day Program@Naithon, ...</u></a>
<a class="ev c-purple" style="left:783.58px;top:792.90px"><span class="t">10:00</span> <u style="letter-spacing:-0.037px">Feed and Spa@Loch Palm, 3 ...</u></a>
<a class="ev c-ired" style="left:783.58px;top:806.00px"><span class="t">10:00</span> <u style="letter-spacing:0.063px">Phuket City Tour with Elepha...</u></a>
<div class="dn" style="left:986.52px;top:752.70px">13</div>
<a class="ev c-samet" style="left:906.75px;top:766.70px"><span class="t">04:30</span> <u style="letter-spacing:-0.020px">Samet Nangshe, 2 pax</u></a>
<a class="ev c-brown" style="left:906.75px;top:779.80px"><span class="t">08:00</span> <u style="letter-spacing:0.045px">Half-Day Program@Naithon, ...</u></a>
<a class="ev c-green" style="left:906.75px;top:792.90px"><span class="t">08:00</span> <u style="letter-spacing:0.041px">Half-Day Program@Loch Pal...</u></a>
<a class="ev c-purple" style="left:906.75px;top:806.00px"><span class="t">10:00</span> <u style="letter-spacing:-0.037px">Feed and Spa@Loch Palm, 5 ...</u></a>
<div class="dn" style="left:1109.69px;top:752.70px">14</div>
<a class="ev c-green" style="left:1029.92px;top:766.70px"><span class="t">08:00</span> <u style="letter-spacing:0.041px">Half-Day Program@Loch Pal...</u></a>
<a class="ev c-brown" style="left:1029.92px;top:779.80px"><span class="t">08:00</span> <u style="letter-spacing:0.045px">Half-Day Program@Naithon, ...</u></a>
</div>
<div id="corner"></div>
</body>
</html>
